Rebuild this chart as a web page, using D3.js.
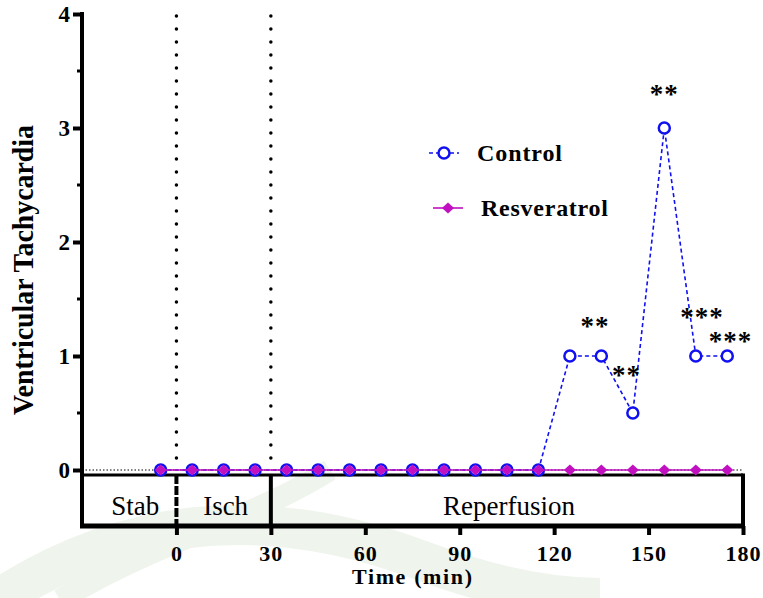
<!DOCTYPE html>
<html>
<head>
<meta charset="utf-8">
<script src="https://cdn.jsdelivr.net/npm/d3@7"></script>
<style>
  body { margin: 0; background: #fff; }
  svg { display: block; }
</style>
</head>
<body>
<div id="chart"></div>
<script>
// data
const times = [-5, 5, 15, 25, 35, 45, 55, 65, 75, 85, 95, 105, 115, 125, 135, 145, 155, 165, 175];
const controlValues = [0, 0, 0, 0, 0, 0, 0, 0, 0, 0, 0, 0, 0, 1, 1, 0.5, 3, 1, 1];
const resveratrolValues = [0, 0, 0, 0, 0, 0, 0, 0, 0, 0, 0, 0, 0, 0, 0, 0, 0, 0, 0];
const xTicks = [0, 30, 60, 90, 120, 150, 180];
const yTicks = [0, 1, 2, 3, 4];
const yMinorTicks = [0.5, 1.5, 2.5, 3.5];
const phases = [
  {name: 'Stab', start: -30, end: 0},
  {name: 'Isch', start: 0, end: 30},
  {name: 'Reperfusion', start: 30, end: 180}
];
const stars = [
  {t: 133, v: 1.30, text: '**'},
  {t: 143, v: 0.87, text: '**'},
  {t: 155, v: 3.33, text: '**'},
  {t: 167, v: 1.38, text: '***'},
  {t: 176, v: 1.17, text: '***'}
];

const option = {
  width: 763,
  height: 598,
  margin: {top: 14, right: 20, bottom: 72, left: 82},
  zeroY: 470,
  boxTop: 475,
  boxBottom: 526
};

const blue = '#1010f0';
const magenta = '#c010c0';
const serif = '"Liberation Serif", "Times New Roman", serif';

const svg = d3.select('#chart')
    .append('svg')
    .attr('width', option.width)
    .attr('height', option.height);

const x = d3.scaleLinear()
    .domain([-30, 180])
    .range([option.margin.left, 743]);

const y = d3.scaleLinear()
    .domain([0, 4])
    .range([option.zeroY, option.margin.top]);

// faint watermark in the background
const wm = svg.append('g').attr('fill', 'none').attr('stroke', '#eff4ed');
wm.append('path')
    .attr('d', 'M0,598 C120,520 260,500 420,560 C500,590 560,598 600,598')
    .attr('stroke-width', 40);
wm.append('path')
    .attr('d', 'M60,600 C160,540 250,520 330,470')
    .attr('stroke-width', 22);

// vertical dotted lines at 0 and 30
svg.append('g')
    .selectAll('line')
    .data([0, 30])
    .join('line')
    .attr('x1', (d) => x(d))
    .attr('x2', (d) => x(d))
    .attr('y1', option.margin.top + 2)
    .attr('y2', option.zeroY - 4)
    .attr('stroke', '#000')
    .attr('stroke-width', 3.5)
    .attr('stroke-linecap', 'round')
    .attr('stroke-dasharray', '0 13');

// zero reference line
svg.append('line')
    .attr('x1', x(-30))
    .attr('x2', x(180))
    .attr('y1', y(0))
    .attr('y2', y(0))
    .attr('stroke', '#000')
    .attr('stroke-width', 1)
    .attr('stroke-dasharray', '1.5 2');

// phase box under the axis
const box = svg.append('g');
box.append('line')
    .attr('x1', x(-30)).attr('x2', x(180))
    .attr('y1', option.boxTop).attr('y2', option.boxTop)
    .attr('stroke', '#000').attr('stroke-width', 3);
box.append('line')
    .attr('x1', x(180)).attr('x2', x(180))
    .attr('y1', option.boxTop - 1.5).attr('y2', option.boxBottom)
    .attr('stroke', '#000').attr('stroke-width', 4);
box.append('line')
    .attr('x1', x(0)).attr('x2', x(0))
    .attr('y1', option.boxTop).attr('y2', option.boxBottom)
    .attr('stroke', '#000').attr('stroke-width', 4)
    .attr('stroke-dasharray', '9 2');
box.append('line')
    .attr('x1', x(30)).attr('x2', x(30))
    .attr('y1', option.boxTop).attr('y2', option.boxBottom)
    .attr('stroke', '#000').attr('stroke-width', 4);
box.selectAll('text')
    .data(phases)
    .join('text')
    .attr('x', (d) => (x(d.start) + x(d.end)) / 2 + (d.name === 'Stab' ? 6 : 2))
    .attr('y', 515)
    .attr('text-anchor', 'middle')
    .attr('font-family', serif)
    .attr('font-size', 27)
    .text((d) => d.name);

// x axis at the bottom of the box
const xAxis = d3.axisBottom(x)
    .tickValues(xTicks)
    .tickSize(9)
    .tickPadding(10)
    .tickFormat(d3.format('d'));

const gx = svg.append('g')
    .attr('transform', `translate(0,${option.boxBottom})`)
    .call(xAxis);
gx.select('.domain').remove();
gx.selectAll('.tick line').attr('stroke', '#000').attr('stroke-width', 4);
gx.selectAll('.tick text')
    .attr('font-family', serif)
    .attr('font-size', 22)
    .attr('font-weight', 'bold')
    .attr('letter-spacing', 1)
    .attr('fill', '#000');
svg.append('line')
    .attr('x1', x(-30) - 2).attr('x2', x(180) + 2)
    .attr('y1', option.boxBottom).attr('y2', option.boxBottom)
    .attr('stroke', '#000').attr('stroke-width', 5);

// y axis
const yAxis = d3.axisLeft(y)
    .tickValues(yTicks)
    .tickSize(9)
    .tickPadding(3)
    .tickFormat(d3.format('d'));

const gy = svg.append('g')
    .attr('transform', `translate(${option.margin.left},0)`)
    .call(yAxis);
gy.select('.domain').remove();
gy.selectAll('.tick line').attr('stroke', '#000').attr('stroke-width', 4);
gy.selectAll('.tick text')
    .attr('font-family', serif)
    .attr('font-size', 23)
    .attr('font-weight', 'bold')
    .attr('fill', '#000');
svg.append('g')
    .selectAll('line')
    .data(yMinorTicks)
    .join('line')
    .attr('x1', option.margin.left - 5)
    .attr('x2', option.margin.left)
    .attr('y1', (d) => y(d))
    .attr('y2', (d) => y(d))
    .attr('stroke', '#000')
    .attr('stroke-width', 3);
svg.append('line')
    .attr('x1', option.margin.left).attr('x2', option.margin.left)
    .attr('y1', y(4) - 2).attr('y2', option.boxBottom + 2)
    .attr('stroke', '#000').attr('stroke-width', 4);

// axis titles
svg.append('text')
    .attr('transform', 'translate(33,270) rotate(-90)')
    .attr('text-anchor', 'middle')
    .attr('font-family', serif)
    .attr('font-size', 29)
    .attr('font-weight', 'bold')
    .attr('textLength', 290)
    .attr('lengthAdjust', 'spacingAndGlyphs')
    .text('Ventricular Tachycardia');

svg.append('text')
    .attr('x', 412)
    .attr('y', 584)
    .attr('text-anchor', 'middle')
    .attr('font-family', serif)
    .attr('font-size', 22)
    .attr('font-weight', 'bold')
    .attr('textLength', 120)
    .attr('lengthAdjust', 'spacing')
    .text('Time (min)');

// series
const controlData = times.map((t, i) => ({t, v: controlValues[i]}));
const resData = times.map((t, i) => ({t, v: resveratrolValues[i]}));
const line = d3.line().x((d) => x(d.t)).y((d) => y(d.v));

svg.append('path')
    .datum(controlData)
    .attr('d', line)
    .attr('fill', 'none')
    .attr('stroke', blue)
    .attr('stroke-width', 1.6)
    .attr('stroke-dasharray', '4 3');

svg.append('g')
    .selectAll('circle')
    .data(controlData)
    .join('circle')
    .attr('cx', (d) => x(d.t))
    .attr('cy', (d) => y(d.v))
    .attr('r', 5.5)
    .attr('fill', '#fff')
    .attr('stroke', blue)
    .attr('stroke-width', 2.5);

svg.append('path')
    .datum(resData)
    .attr('d', line)
    .attr('fill', 'none')
    .attr('stroke', magenta)
    .attr('stroke-width', 1.6);

const diamond = 'M0,-5.5 L6,0 L0,5.5 L-6,0 Z';
svg.append('g')
    .selectAll('path')
    .data(resData)
    .join('path')
    .attr('transform', (d) => `translate(${x(d.t)},${y(d.v)})`)
    .attr('d', diamond)
    .attr('fill', magenta);

// significance stars
svg.append('g')
    .selectAll('text')
    .data(stars)
    .join('text')
    .attr('x', (d) => x(d.t))
    .attr('y', (d) => y(d.v) + 13)
    .attr('text-anchor', 'middle')
    .attr('font-family', serif)
    .attr('font-size', 27)
    .attr('font-weight', 'bold')
    .attr('letter-spacing', 1)
    .text((d) => d.text);

// legend
const legend = svg.append('g');
legend.append('line')
    .attr('x1', 429).attr('x2', 459)
    .attr('y1', 153).attr('y2', 153)
    .attr('stroke', blue).attr('stroke-width', 1.6)
    .attr('stroke-dasharray', '4 3');
legend.append('circle')
    .attr('cx', 444).attr('cy', 153).attr('r', 5.5)
    .attr('fill', '#fff').attr('stroke', blue).attr('stroke-width', 2.5);
legend.append('text')
    .attr('x', 477).attr('y', 161)
    .attr('font-family', serif).attr('font-size', 24)
    .attr('font-weight', 'bold')
    .attr('textLength', 85).attr('lengthAdjust', 'spacing')
    .text('Control');
legend.append('line')
    .attr('x1', 433).attr('x2', 463)
    .attr('y1', 208).attr('y2', 208)
    .attr('stroke', magenta).attr('stroke-width', 1.6);
legend.append('path')
    .attr('transform', 'translate(448,208)')
    .attr('d', diamond)
    .attr('fill', magenta);
legend.append('text')
    .attr('x', 481).attr('y', 216)
    .attr('font-family', serif).attr('font-size', 24)
    .attr('font-weight', 'bold')
    .attr('textLength', 127).attr('lengthAdjust', 'spacing')
    .text('Resveratrol');
</script>
</body>
</html>
